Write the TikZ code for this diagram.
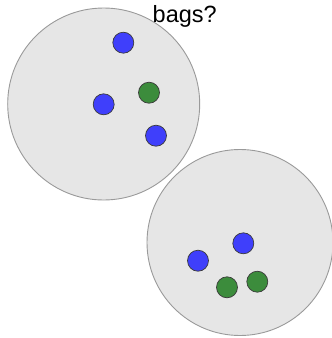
\documentclass[tikz,border=0pt]{standalone}
\usepackage{fontspec}
\setmainfont{Liberation Sans}
\usetikzlibrary{positioning}
\definecolor{bagfill}{HTML}{E6E6E6}
\definecolor{bagline}{HTML}{9A9A9A}
\definecolor{ballblue}{HTML}{3F3FFB}
\definecolor{ballgreen}{HTML}{3C8C3C}
\definecolor{ballline}{HTML}{3A3A3A}

\begin{document}
\begin{tikzpicture}[x=1pt, y=-1pt,
    bag/.style={circle, draw=bagline, fill=bagfill, line width=0.9pt, inner sep=0pt},
    ball/.style={circle, draw=ballline, line width=0.7pt, minimum size=21pt, inner sep=0pt}]
        \useasboundingbox (0,0) rectangle (332,338);

        \node[bag, minimum size=192pt] (bagA) at (103.7,104) {};
        \node[bag, minimum size=186pt] (bagB) at (240,242.5) {};

        \node[ball, fill=ballblue] (a1) at (123.3,42.7) {};
        \node[ball, fill=ballgreen] (a2) at (149,92.7) {};
        \node[ball, fill=ballblue] (a3) at (103.7,104.3) {};
        \node[ball, fill=ballblue] (a4) at (156,135.7) {};

        \node[ball, fill=ballblue] (b1) at (243.3,243.3) {};
        \node[ball, fill=ballblue] (b2) at (198,260.7) {};
        \node[ball, fill=ballgreen] (b3) at (227,287.3) {};
        \node[ball, fill=ballgreen] (b4) at (257.3,281.7) {};

        \node[anchor=base, inner sep=0pt, font=\fontsize{23.5}{28}\selectfont] (title) at (184.7,22.7) {bags?};
    \end{tikzpicture}
\end{document}
